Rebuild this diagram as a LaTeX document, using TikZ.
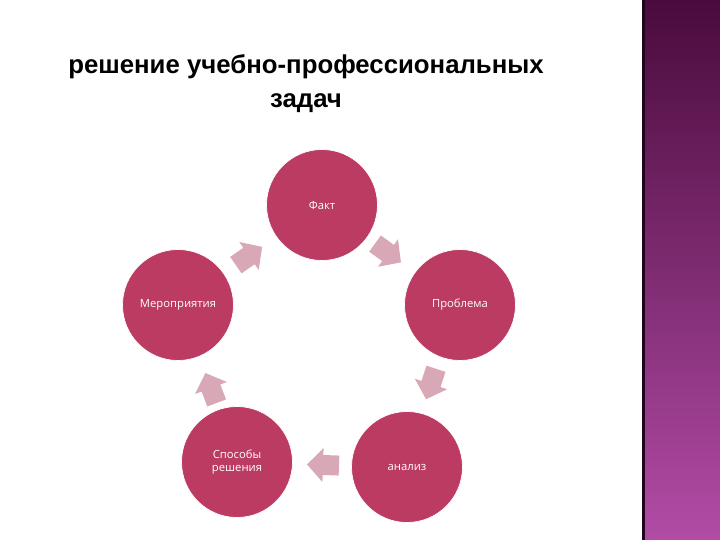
\documentclass[tikz,border=0pt]{standalone}
\usepackage{fontspec}
\setmainfont{Liberation Sans}
\newfontfamily\lblfont{Open Sans}
\begin{document}
\begin{tikzpicture}[x=0.03cm,y=-0.03cm,
  stage/.style={circle,fill=stagecol,draw=white,line width=0.6pt,minimum size=111*0.03cm,inner sep=0pt,
    text=white,font=\lblfont\fontsize{9.6}{11}\selectfont,align=center},
  cycarrow/.style={fill=arrcol,draw=none}]
\definecolor{stagecol}{HTML}{BB3B63}
\definecolor{arrcol}{HTML}{D9A8B6}
\definecolor{bartop}{HTML}{4A0B3D}
\definecolor{barbot}{HTML}{B24CA6}
\useasboundingbox (0,0) rectangle (720,540);
\fill[white] (0,0) rectangle (720,540);
% right bar
\shade[top color=bartop,bottom color=barbot] (643,0) rectangle (720,540);
\fill[black!55!bartop] (642,0) rectangle (644.5,540);
% title
\node[font=\bfseries\fontsize{22}{29.5}\selectfont,align=center,anchor=north] (title) at (306,50)
  {решение учебно-профессиональных\\задач};
% stages
\node[stage] (fakt) at (322,205) {Факт};
\node[stage] (probl) at (460,305) {Проблема};
\node[stage] (anal) at (407,467) {анализ};
\node[stage] (sposob) at (237,462) {Способы\\решения};
\node[stage] (merop) at (178,305) {Мероприятия};
% arrows
\foreach \px/\py/\a in {388/253/-36, 431/384/-108, 323/465/178, 211/388/110.6, 249/256/34.8}{
  \begin{scope}[shift={(\px,\py)},rotate=\a]
    \fill[cycarrow] (-16,-10) -- (0,-10) -- (0,-17) -- (16,0) -- (0,17) -- (0,10) -- (-16,10) -- cycle;
  \end{scope}
}
\end{tikzpicture}
\end{document}
